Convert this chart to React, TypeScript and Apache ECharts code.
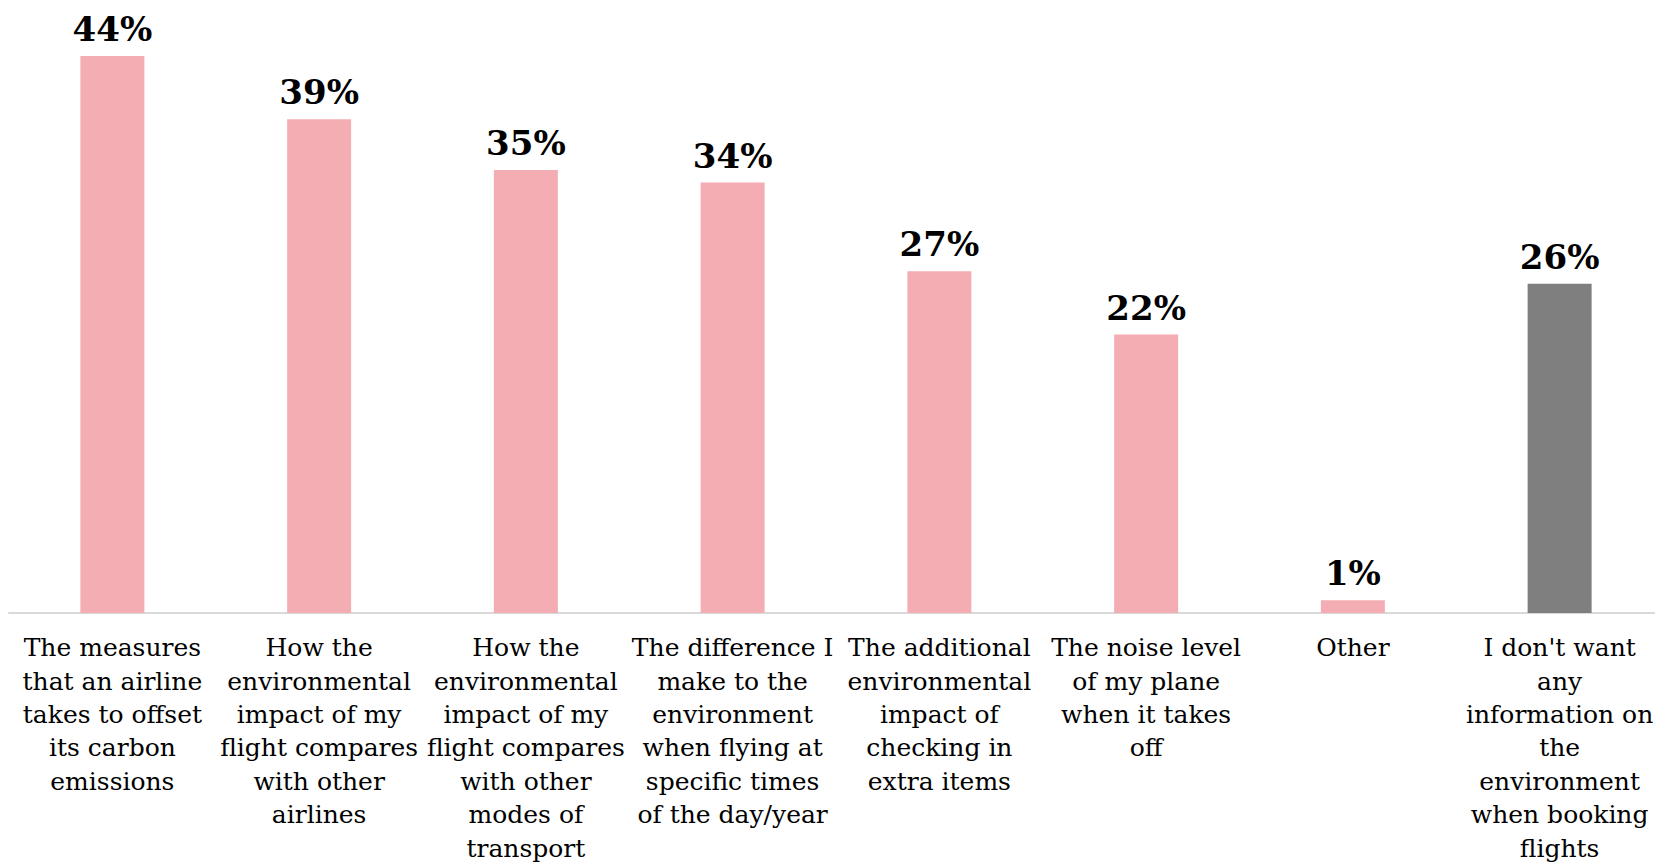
import React, { useEffect, useRef } from "react";
import * as echarts from "echarts";

const categories: string[] = [
  "The measures\nthat an airline\ntakes to offset\nits carbon\nemissions",
  "How the\nenvironmental\nimpact of my\nflight compares\nwith other\nairlines",
  "How the\nenvironmental\nimpact of my\nflight compares\nwith other\nmodes of\ntransport",
  "The difference I\nmake to the\nenvironment\nwhen flying at\nspecific times\nof the day/year",
  "The additional\nenvironmental\nimpact of\nchecking in\nextra items",
  "The noise level\nof my plane\nwhen it takes\noff",
  "Other",
  "I don't want\nany\ninformation on\nthe\nenvironment\nwhen booking\nflights",
];
const values: number[] = [44, 39, 35, 34, 27, 22, 1, 26];
const barColors: string[] = ["#F4AEB3", "#F4AEB3", "#F4AEB3", "#F4AEB3", "#F4AEB3", "#F4AEB3", "#F4AEB3", "#7F7F7F"];

const FONT = "'DejaVu Serif', Georgia, serif";

export default function App() {
  const ref = useRef<HTMLDivElement>(null);
  useEffect(() => {
    if (!ref.current) return;
    const chart = echarts.init(ref.current, null, { renderer: "svg" });
    chart.setOption({
      animation: false,
      backgroundColor: "#ffffff",
      grid: {
        left: 9,
        right: -8,
        top: 56,
        bottom: 249,
        containLabel: false,
        outerBoundsMode: "none",
      },
      xAxis: {
        type: "category",
        data: categories,
        axisLine: { show: true, lineStyle: { color: "#D9D9D9", width: 2 } },
        axisTick: { show: false },
        axisLabel: {
          interval: 0,
          margin: 18,
          color: "#000000",
          fontFamily: FONT,
          fontSize: 25,
          lineHeight: 33.4,
          align: "center",
        },
      },
      yAxis: {
        type: "value",
        min: 0,
        max: 44,
        show: false,
        splitLine: { show: false },
      },
      series: [
        {
          type: "bar",
          barWidth: 64,
          data: values.map((v, i) => ({ value: v, itemStyle: { color: barColors[i] } })),
          label: {
            show: true,
            position: "top",
            distance: 10,
            formatter: "{c}%",
            color: "#000000",
            fontFamily: FONT,
            fontWeight: "bold",
            fontSize: 34,
          },
        },
      ],
    });
    return () => chart.dispose();
  }, []);
  return (
    <div
      ref={ref}
      style={{ position: "fixed", left: 0, top: 0, width: 1655, height: 862 }}
    />
  );
}
